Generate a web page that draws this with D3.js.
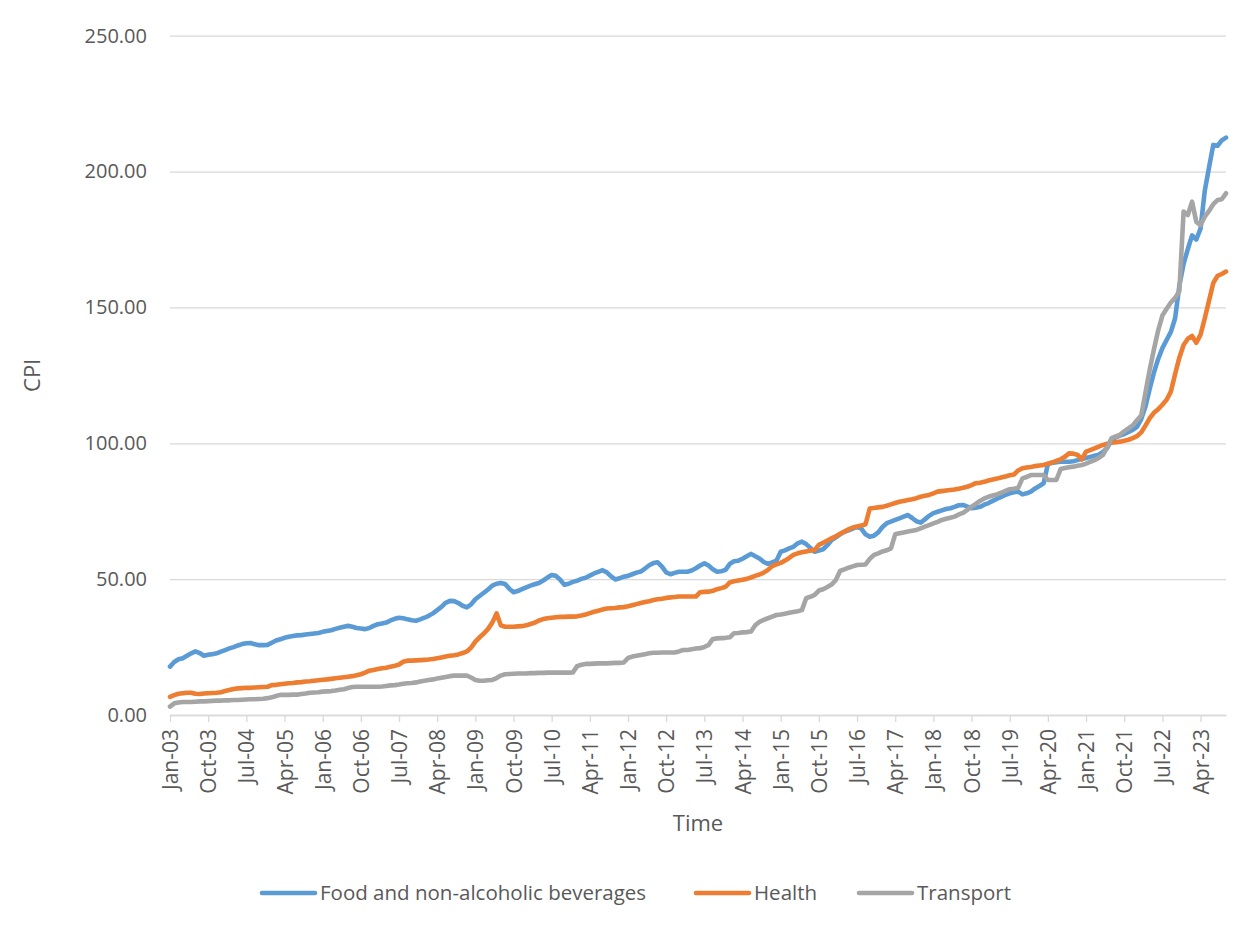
<!DOCTYPE html>
<html>
<head>
<meta charset="utf-8">
<script src="https://cdn.jsdelivr.net/npm/d3@7"></script>
<style>
  html, body { margin: 0; padding: 0; background: #ffffff; }
  svg { display: block; font-family: "Open Sans", "Noto Sans", sans-serif; }
</style>
</head>
<body>
<svg id="chart" width="1253" height="928"></svg>
<script>
// Monthly CPI, Jan 2003 – Oct 2023 (one row per year)
const foodValues = [
  17.8, 19.5, 20.5, 20.9, 21.8, 22.7, 23.4, 22.8, 21.8, 22.2, 22.4, 22.7,
  23.3, 23.9, 24.5, 25.0, 25.6, 26.1, 26.4, 26.5, 26.0, 25.7, 25.7, 25.8,
  26.6, 27.4, 27.9, 28.4, 28.8, 29.1, 29.3, 29.4, 29.6, 29.8, 30.0, 30.2,
  30.6, 30.9, 31.2, 31.7, 32.1, 32.5, 32.8, 32.5, 32.0, 31.8, 31.6, 32.0,
  32.8, 33.4, 33.7, 34.0, 34.8, 35.4, 35.8, 35.6, 35.2, 34.9, 34.7, 35.2,
  35.8, 36.5, 37.4, 38.6, 39.8, 41.3, 42.0, 41.9, 41.2, 40.2, 39.6, 40.7,
  42.6, 43.8, 45.0, 46.2, 47.6, 48.3, 48.6, 48.2, 46.5, 45.2, 45.6, 46.3,
  47.0, 47.6, 48.1, 48.6, 49.5, 50.6, 51.5, 51.2, 49.8, 47.9, 48.3, 49.0,
  49.4, 50.1, 50.5, 51.3, 52.1, 52.7, 53.3, 52.5, 51.0, 49.9, 50.3, 50.9,
  51.2, 51.8, 52.4, 52.8, 53.9, 55.1, 55.9, 56.2, 54.6, 52.5, 51.8, 52.3,
  52.7, 52.7, 52.7, 53.2, 54.0, 55.0, 55.8, 55.0, 53.6, 52.7, 52.9, 53.4,
  55.6, 56.6, 56.8, 57.5, 58.4, 59.3, 58.4, 57.6, 56.3, 55.6, 56.2, 56.8,
  60.1, 60.6, 61.3, 61.9, 63.2, 63.8, 62.9, 61.5, 60.1, 60.5, 61.0, 62.5,
  64.4, 65.4, 66.5, 67.4, 68.0, 68.6, 69.2, 68.6, 66.5, 65.6, 66.0, 67.2,
  69.2, 70.6, 71.2, 71.8, 72.4, 73.0, 73.6, 72.5, 71.3, 70.8, 72.0, 73.3,
  74.3, 74.8, 75.3, 75.8, 76.1, 76.6, 77.2, 77.3, 76.7, 76.1, 76.3, 76.6,
  77.4, 78.0, 78.8, 79.6, 80.3, 81.0, 81.6, 82.0, 82.2, 81.2, 81.6, 82.2,
  83.4, 84.3, 85.3, 92.4, 92.8, 93.0, 93.2, 93.2, 93.2, 93.4, 93.8, 94.2,
  94.6, 95.0, 95.4, 95.8, 96.8, 98.3, 101.2, 102.2, 102.8, 103.4, 104.2, 104.9,
  106.0, 108.8, 113.5, 120.0, 126.0, 131.0, 135.0, 138.0, 141.0, 146.0, 158.0, 166.0,
  171.5, 176.5, 175.0, 179.0, 193.0, 201.5, 209.8, 209.5, 211.5, 212.5
];

const healthValues = [
  6.7, 7.3, 7.8, 8.0, 8.2, 8.2, 7.8, 7.7, 7.9, 8.0, 8.1, 8.2,
  8.4, 8.8, 9.2, 9.6, 9.8, 9.9, 10.0, 10.0, 10.1, 10.2, 10.3, 10.4,
  11.0, 11.1, 11.3, 11.5, 11.7, 11.8, 12.0, 12.1, 12.3, 12.4, 12.6, 12.8,
  13.0, 13.1, 13.3, 13.5, 13.7, 13.9, 14.1, 14.3, 14.6, 15.0, 15.6, 16.3,
  16.6, 16.9, 17.2, 17.4, 17.8, 18.1, 18.6, 19.6, 20.0, 20.0, 20.1, 20.2,
  20.3, 20.4, 20.6, 20.9, 21.2, 21.5, 21.8, 22.0, 22.3, 22.8, 23.4, 24.8,
  27.0, 28.6, 30.0, 31.7, 34.0, 37.4, 33.0, 32.5, 32.5, 32.5, 32.6, 32.7,
  33.0, 33.5, 34.0, 34.8, 35.3, 35.6, 35.8, 36.0, 36.1, 36.1, 36.2, 36.2,
  36.3, 36.6, 37.0, 37.5, 38.0, 38.4, 38.8, 39.2, 39.3, 39.4, 39.6, 39.7,
  40.0, 40.4, 40.8, 41.2, 41.6, 41.9, 42.3, 42.6, 42.8, 43.1, 43.3, 43.4,
  43.6, 43.6, 43.6, 43.6, 43.6, 45.2, 45.3, 45.4, 45.7, 46.3, 46.7, 47.2,
  48.8, 49.2, 49.5, 49.8, 50.1, 50.6, 51.2, 51.7, 52.4, 53.4, 54.8, 55.4,
  56.0, 56.8, 57.8, 58.9, 59.5, 59.9, 60.2, 60.5, 60.7, 62.6, 63.4, 64.2,
  65.0, 65.8, 66.7, 67.5, 68.3, 69.0, 69.4, 69.7, 70.2, 76.0, 76.2, 76.4,
  76.6, 77.0, 77.5, 78.0, 78.5, 78.8, 79.1, 79.4, 79.8, 80.3, 80.7, 81.0,
  81.6, 82.2, 82.4, 82.6, 82.8, 83.0, 83.3, 83.6, 84.0, 84.6, 85.3, 85.5,
  85.8, 86.3, 86.7, 87.0, 87.4, 87.8, 88.2, 88.5, 90.0, 90.8, 91.1, 91.3,
  91.6, 91.8, 92.0, 92.5, 92.9, 93.5, 94.1, 95.0, 96.3, 96.2, 95.7, 94.1,
  96.9, 97.5, 98.1, 98.8, 99.4, 99.8, 100.2, 100.4, 100.6, 100.9, 101.3, 101.9,
  102.6, 104.0, 106.5, 109.2, 111.2, 112.5, 114.2, 116.0, 119.0, 125.5, 131.5, 136.2,
  138.5, 139.5, 137.0, 140.0, 146.0, 152.5, 159.0, 161.6, 162.3, 163.2
];

const transportValues = [
  3.1, 4.3, 4.6, 4.8, 4.8, 4.8, 4.9, 5.0, 5.0, 5.1, 5.2, 5.3,
  5.3, 5.4, 5.4, 5.5, 5.5, 5.6, 5.7, 5.8, 5.8, 5.9, 6.0, 6.2,
  6.5, 7.0, 7.4, 7.4, 7.4, 7.5, 7.5, 7.7, 7.9, 8.2, 8.3, 8.4,
  8.6, 8.7, 8.8, 9.0, 9.3, 9.5, 9.9, 10.3, 10.4, 10.4, 10.4, 10.4,
  10.4, 10.4, 10.5, 10.7, 10.9, 11.0, 11.2, 11.5, 11.7, 11.8, 12.0, 12.3,
  12.6, 12.9, 13.1, 13.4, 13.7, 14.0, 14.3, 14.5, 14.5, 14.5, 14.5, 13.8,
  12.9, 12.6, 12.6, 12.8, 12.9, 13.6, 14.5, 15.0, 15.1, 15.2, 15.3, 15.3,
  15.3, 15.4, 15.4, 15.5, 15.5, 15.6, 15.6, 15.6, 15.6, 15.6, 15.6, 15.7,
  18.0, 18.5, 18.8, 18.8, 18.9, 19.0, 19.0, 19.0, 19.1, 19.2, 19.2, 19.3,
  21.0, 21.5, 21.8, 22.1, 22.4, 22.7, 22.9, 22.9, 23.0, 23.0, 23.0, 23.0,
  23.4, 23.9, 23.9, 24.2, 24.5, 24.6, 25.0, 25.8, 28.0, 28.2, 28.3, 28.4,
  28.6, 30.1, 30.2, 30.4, 30.5, 30.7, 33.0, 34.3, 35.0, 35.6, 36.2, 36.8,
  37.0, 37.3, 37.6, 37.9, 38.2, 38.6, 43.0, 43.5, 44.2, 45.8, 46.3, 47.1,
  48.0, 49.7, 53.0, 53.6, 54.2, 54.7, 55.2, 55.3, 55.4, 57.5, 58.9, 59.5,
  60.2, 60.6, 61.3, 66.5, 66.9, 67.2, 67.5, 67.8, 68.1, 68.7, 69.3, 69.9,
  70.5, 71.1, 71.8, 72.2, 72.6, 73.0, 73.8, 74.4, 75.5, 76.7, 77.7, 78.8,
  79.7, 80.3, 80.8, 81.2, 81.8, 82.5, 83.1, 83.3, 83.6, 87.1, 87.6, 88.3,
  88.3, 88.3, 88.3, 86.5, 86.5, 86.5, 90.5, 90.9, 91.2, 91.4, 91.7, 92.0,
  92.5, 93.2, 93.8, 94.6, 95.7, 98.5, 101.9, 102.5, 103.1, 104.4, 105.5, 106.6,
  108.5, 110.2, 118.5, 127.0, 134.5, 141.5, 147.0, 149.5, 151.8, 153.5, 156.0, 185.3,
  184.0, 188.9, 181.5, 180.3, 183.4, 185.5, 188.0, 189.5, 189.8, 192.0
];

const seriesNames = ["Food and non-alcoholic beverages", "Health", "Transport"];
const seriesColors = ["#5b9bd5", "#ed7d31", "#a5a5a5"];

const yTicks = [0, 50, 100, 150, 200, 250];
const xTickLabels = [
  "Jan-03", "Oct-03", "Jul-04", "Apr-05", "Jan-06", "Oct-06", "Jul-07",
  "Apr-08", "Jan-09", "Oct-09", "Jul-10", "Apr-11", "Jan-12", "Oct-12",
  "Jul-13", "Apr-14", "Jan-15", "Oct-15", "Jul-16", "Apr-17", "Jan-18",
  "Oct-18", "Jul-19", "Apr-20", "Jan-21", "Oct-21", "Jul-22", "Apr-23"
];

// Month categories Jan-03 ... Oct-23
const fmtMonth = d3.timeFormat("%b-%y");
const categories = d3.timeMonth
  .range(new Date(2003, 0, 1), new Date(2023, 10, 1))
  .map(fmtMonth);

const series = seriesNames.map((name, k) => ({
  name,
  color: seriesColors[k],
  values: [foodValues, healthValues, transportValues][k]
}));

const svg = d3.select("#chart");
const plotLeft = 170, plotRight = 1226, plotTop = 35.7, plotBottom = 715;
const textColor = "#595959";
const gridColor = "#d9d9d9";

const x = d3.scalePoint().domain(categories).range([plotLeft, plotRight]);
const y = d3.scaleLinear().domain([0, 250]).range([plotBottom, plotTop]);

// Horizontal gridlines + value labels
const yAxis = svg.append("g")
  .attr("transform", `translate(${plotLeft},0)`)
  .call(d3.axisLeft(y)
    .tickValues(yTicks)
    .tickFormat(d3.format(".2f"))
    .tickSize(-(plotRight - plotLeft))
    .tickPadding(23));
yAxis.select(".domain").remove();
yAxis.selectAll(".tick line").attr("stroke", gridColor).attr("stroke-width", 1.3);
yAxis.selectAll(".tick text")
  .attr("fill", textColor)
  .style("font-size", "20px")
  .style("font-family", "'Open Sans', sans-serif");

// Category axis with rotated month labels
const xAxis = svg.append("g")
  .attr("transform", `translate(0,${plotBottom})`)
  .call(d3.axisBottom(x)
    .tickValues(xTickLabels)
    .tickSize(7)
    .tickSizeOuter(0));
xAxis.select(".domain").attr("stroke", gridColor).attr("stroke-width", 1.3);
xAxis.selectAll(".tick line").attr("stroke", gridColor).attr("stroke-width", 1.3);
xAxis.selectAll(".tick text")
  .attr("fill", textColor)
  .style("font-size", "21px")
  .style("font-family", "'Open Sans', sans-serif")
  .attr("text-anchor", "end")
  .attr("transform", "rotate(-90)")
  .attr("x", -14)
  .attr("y", 0)
  .attr("dy", "0.36em");

// Series lines
const line = d3.line()
  .x((d, i) => x(categories[i]))
  .y(d => y(d));

svg.append("g")
  .selectAll("path")
  .data(series)
  .join("path")
  .attr("fill", "none")
  .attr("stroke", d => d.color)
  .attr("stroke-width", 4.6)
  .attr("stroke-linejoin", "round")
  .attr("stroke-linecap", "round")
  .attr("d", d => line(d.values));

// Axis titles
svg.append("text")
  .attr("x", (plotLeft + plotRight) / 2)
  .attr("y", 831)
  .attr("text-anchor", "middle")
  .attr("fill", textColor)
  .style("font-size", "22px")
  .text("Time");

svg.append("text")
  .attr("transform", `translate(40,${(plotTop + plotBottom) / 2}) rotate(-90)`)
  .attr("text-anchor", "middle")
  .attr("fill", textColor)
  .style("font-size", "22px")
  .text("CPI");

// Legend
const legendX = [262, 696, 859];
const legend = svg.append("g").attr("transform", "translate(0,893)");
series.forEach((s, k) => {
  const lx = legendX[k];
  legend.append("line")
    .attr("x1", lx).attr("x2", lx + 53)
    .attr("y1", 0).attr("y2", 0)
    .attr("stroke", s.color)
    .attr("stroke-width", 4.6)
    .attr("stroke-linecap", "round");
  legend.append("text")
    .attr("x", lx + 58)
    .attr("y", 0)
    .attr("dy", "0.35em")
    .attr("fill", textColor)
    .style("font-size", "20.5px")
    .text(s.name);
});
</script>
</body>
</html>
